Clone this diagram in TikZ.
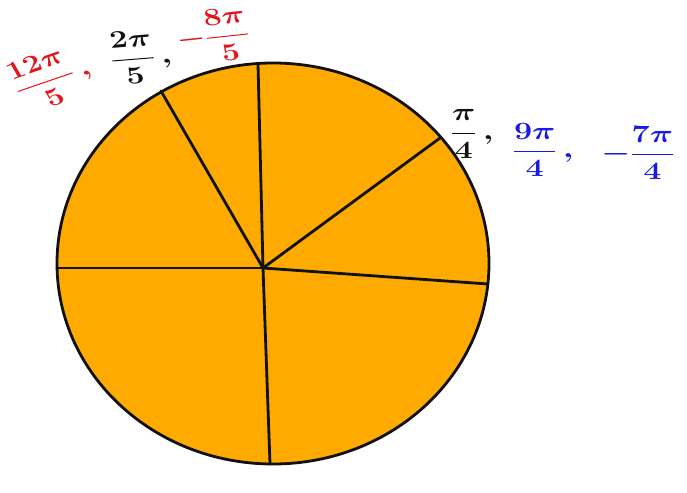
\documentclass[tikz,border=0pt]{standalone}
\usepackage{amsmath}
\usetikzlibrary{positioning}
\definecolor{PieOrange}{HTML}{FFAA00}
\definecolor{MarkRed}{HTML}{E3161E}
\definecolor{MarkBlue}{HTML}{1A1AE0}
\definecolor{Ink}{HTML}{111111}

\begin{document}
\begin{tikzpicture}[x=1pt,y=-1pt,
    spoke/.style={draw=Ink,line width=2.8pt,line cap=round},
    angmark/.style={inner sep=0pt,font=\fontsize{25}{29}\selectfont\boldmath,xscale=1.3}]
      \useasboundingbox (0,0) rectangle (687,492);
      \draw[fill=PieOrange,draw=Ink,line width=2.8pt] (273,263.5) ellipse [x radius=216, y radius=200.5];
      % centre and rim points of the spokes
      \coordinate (hub) at (263,268);
      \coordinate (rimW) at (57,268);
      \coordinate (rimE) at (488,284);
      \coordinate (rimN) at (258,64);
      \coordinate (rimS) at (270,464);
      \coordinate (rimNW) at (161,91);
      \coordinate (rimNE) at (440,138);
      \foreach \r in {rimW,rimE,rimN,rimS,rimNW,rimNE}
        \draw[spoke] (hub) -- (\r);
      % angle labels
      \node[angmark,MarkRed,rotate=24] (twelvefifths) at (52,78) {$\dfrac{12\pi}{5}\,,$};
      \node[angmark,Ink,rotate=6] (twofifths) at (141,57) {$\dfrac{2\pi}{5}\,,$};
      \node[angmark,MarkRed,rotate=8] (negeightfifths) at (213,36) {$-\dfrac{8\pi}{5}$};
      \node[angmark,Ink] (quarter) at (472,134) {$\dfrac{\pi}{4}\,,$};
      \node[angmark,MarkBlue] (ninequarters) at (543,150) {$\dfrac{9\pi}{4}\,,$};
      \node[angmark,MarkBlue] (negsevenquarters) at (638,153) {$-\dfrac{7\pi}{4}$};
    \end{tikzpicture}
\end{document}
